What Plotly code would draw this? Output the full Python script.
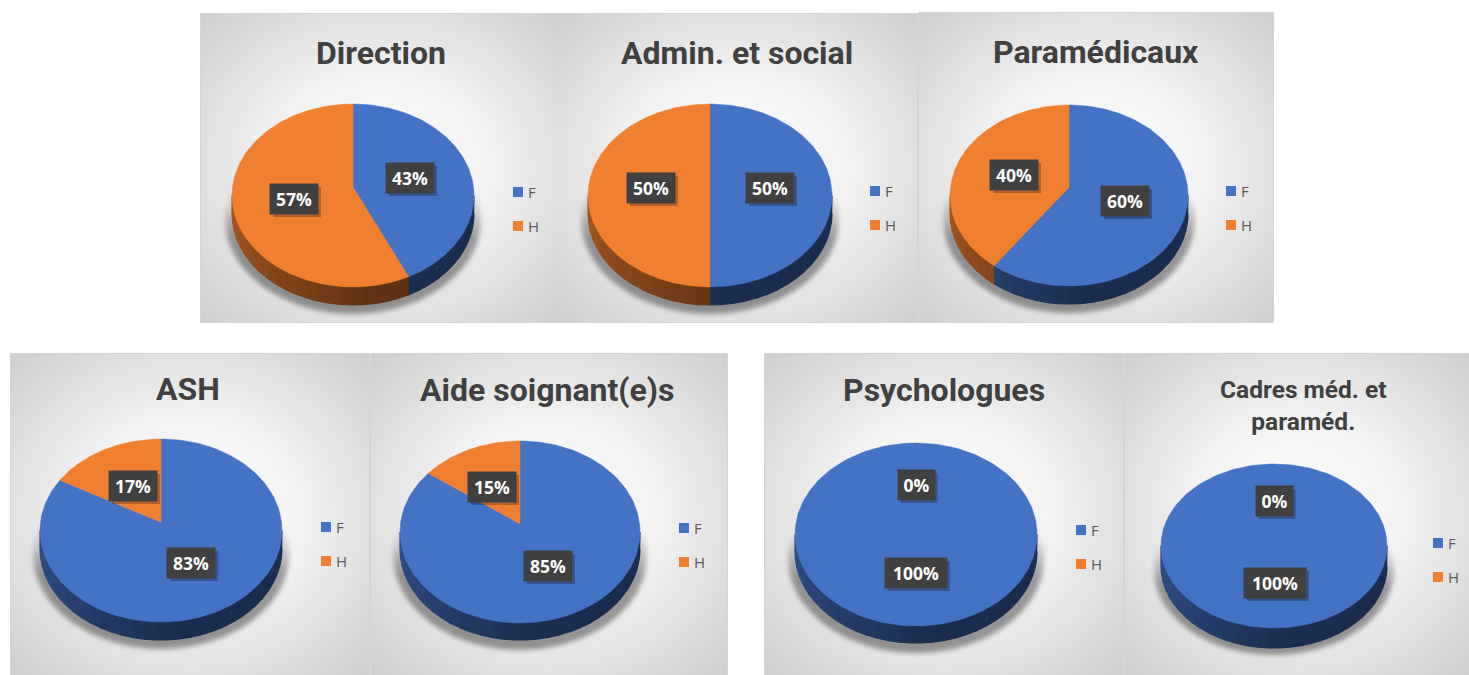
import base64
import numpy as np
import plotly.graph_objects as go

# ---- data -------------------------------------------------------------
titles = ["Direction", "Admin. et social", "Paramédicaux", "ASH",
          "Aide soignant(e)s", "Psychologues", "Cadres méd. et<br>paraméd."]
series_names = ["F", "H"]
values_f = [43, 50, 60, 83, 85, 100, 100]
values_h = [57, 50, 40, 17, 15, 0, 0]
colors = ["#4472C4", "#F07F30"]

# ---- layout (pixels of the 1469x675 page) ------------------------------
panels = [(201, 559, 14, 322), (559, 917, 14, 322), (919, 1273, 13, 322),
          (11, 369, 354, 675), (371, 727, 354, 675), (765, 1123, 354, 675),
          (1125, 1469, 354, 675)]
# centre x, top y, bottom y, half width, depth
pies = [(353, 104, 287, 121, 18), (710, 104, 287, 122, 18), (1069, 105, 286, 119, 18),
        (161, 439, 622, 121, 18), (520, 441, 623, 120, 17), (916, 443, 626, 121, 17),
        (1274, 464, 628, 113, 20)]
title_pos = [(381, 53), (737, 53), (1096, 52), (188, 389), (547, 390), (944, 390), (1303, 405)]
title_sizes = [32, 32, 32, 32, 32, 32, 24.5]
label_f = [(410, 178), (770, 188), (1125, 201), (191, 563), (548, 566), (916, 573), (1275, 583)]
label_h = [(294, 199), (651, 188), (1014, 175), (133, 486), (492, 487), (916, 485), (1274, 501)]
legend_x = [518, 875, 1231, 326, 684, 1081, 1438]
legend_y = [192, 191, 191, 527, 528, 530, 543]
LEG_GAP = 34


def shade(hex_c, k):
    r, g, b = [int(hex_c[i:i + 2], 16) for i in (1, 3, 5)]
    return f"rgb({int(r * k)},{int(g * k)},{int(b * k)})"


def panel_svg(w, h, cx, cy, rx, ry):
    svg = f'''<svg xmlns="http://www.w3.org/2000/svg" width="{w}" height="{h}" viewBox="0 0 {w} {h}">
<defs>
<radialGradient id="g" cx="50%" cy="50%" r="72%">
<stop offset="0%" stop-color="#ffffff"/><stop offset="42%" stop-color="#f2f2f2"/><stop offset="100%" stop-color="#cdcdcd"/>
</radialGradient>
<linearGradient id="s" x1="0" y1="0" x2="0" y2="1">
<stop offset="0.35" stop-color="#000" stop-opacity="0"/><stop offset="0.60" stop-color="#000" stop-opacity="0.36"/><stop offset="1" stop-color="#000" stop-opacity="0.38"/>
</linearGradient>
<filter id="b" x="-20%" y="-20%" width="140%" height="140%"><feGaussianBlur stdDeviation="2.5"/></filter>
</defs>
<rect width="{w}" height="{h}" fill="url(#g)"/>
<ellipse cx="{cx}" cy="{cy + 24}" rx="{rx + 7}" ry="{ry + 3}" fill="url(#s)" filter="url(#b)"/>
</svg>'''
    return "data:image/svg+xml;base64," + base64.b64encode(svg.encode()).decode()


def warp(f, d):
    """Perspective: angle f seen from an apex offset by d (in radii units) -> ellipse parameter."""
    f = np.asarray(f, dtype=float)
    th = 2 * np.pi * f
    s, c = np.sin(th), np.cos(th)
    bq = -d * c
    t = -bq + np.sqrt(bq * bq + 1 - d * d)
    u, v = t * s, d - t * c
    g = np.mod(np.arctan2(u, -v) / (2 * np.pi), 1.0)
    g = np.where(f >= 1.0, 1.0, g)
    return g


def ell(cx, cy, rx, ry, g):
    th = 2 * np.pi * np.asarray(g)
    return cx + rx * np.sin(th), cy - ry * np.cos(th)


fig = go.Figure()
shapes, images, annos = [], [], []

for i, (px0, px1, py0, py1) in enumerate(panels):
    cx, top, bot, rx, depth = pies[i]
    cy = (top + bot) / 2
    ry = (bot - top) / 2
    apex_y = top + 0.455 * (bot - top)
    d = (apex_y - cy) / ry
    images.append(dict(source=panel_svg(px1 - px0, py1 - py0, cx - px0, cy - py0, rx, ry),
                       xref="x", yref="y", x=px0, y=py0, sizex=px1 - px0, sizey=py1 - py0,
                       sizing="stretch", layer="below", xanchor="left", yanchor="top"))
    shapes.append(dict(type="rect", x0=px0, x1=px1, y0=py0, y1=py1, xref="x", yref="y",
                       line=dict(color="#c8c8c8", width=1.5), layer="below"))

    vals = [values_f[i], values_h[i]]
    total = sum(vals)

    # side wall (front half only)
    start = 0.0
    for s, v in enumerate(vals):
        frac = v / total
        end = start + frac
        if frac > 0:
            g0, g1 = float(warp(start, d)), float(warp(end, d))
            a, b = max(g0, 0.25), min(g1, 0.75)
            if b > a:
                edges = np.linspace(a, b, max(2, int((b - a) / 0.015) + 1))
                for e0, e1 in zip(edges[:-1], edges[1:]):
                    t = (0.5 * (e0 + e1) - 0.25) / 0.5
                    k = 0.40 + 0.30 * max(0, t - 0.45) / 0.55
                    x, y = ell(cx, cy, rx, ry, np.linspace(e0, e1, 4))
                    xs = list(x) + list(x[::-1])
                    ys = list(y) + list((y + depth)[::-1])
                    col = shade(colors[s], k)
                    fig.add_trace(go.Scatter(x=xs, y=ys, mode="lines", fill="toself", fillcolor=col,
                                             line=dict(color=col, width=1.2),
                                             hoverinfo="skip", showlegend=False))
        start = end

    # top surface
    start = 0.0
    for s, v in enumerate(vals):
        frac = v / total
        end = start + frac
        if frac > 0:
            g0, g1 = float(warp(start, d)), float(warp(end, d))
            x, y = ell(cx, cy, rx, ry, np.linspace(g0, g1, 181))
            if frac < 1:
                x = np.r_[cx, x, cx]
                y = np.r_[apex_y, y, apex_y]
            fig.add_trace(go.Scatter(x=x, y=y, mode="lines", fill="toself",
                                     fillcolor=colors[s], line=dict(color=colors[s], width=0.5),
                                     name=series_names[s], text=f"{titles[i]}: {v}%",
                                     hoverinfo="text", showlegend=False))
        start = end

    # data labels
    for (lx, ly), v in ((label_f[i], values_f[i]), (label_h[i], values_h[i])):
        txt = f"{v}%"
        w = {2: 37, 3: 48, 4: 62}[len(txt)]
        shapes.append(dict(type="rect", x0=lx - w / 2 + 3, x1=lx + w / 2 + 3, y0=ly - 15 + 3, y1=ly + 15 + 3,
                           xref="x", yref="y", fillcolor="rgba(0,0,0,0.25)", line_width=0, layer="above"))
        annos.append(dict(x=lx, y=ly, xref="x", yref="y", text=f"<b>{txt}</b>", showarrow=False,
                          width=w, height=30, borderpad=0, bgcolor="#404040", align="center", valign="middle",
                          font=dict(family="Open Sans", size=17.5, color="#ffffff")))

    # title
    tx, ty = title_pos[i]
    annos.append(dict(x=tx, y=ty, xref="x", yref="y", text=f"<b>{titles[i]}</b>",
                      showarrow=False, font=dict(family="Roboto", size=title_sizes[i], color="#404040"),
                      align="center", yanchor="middle", xanchor="center"))

    # legend
    mx, my = legend_x[i], legend_y[i]
    shapes.append(dict(type="rect", x0=mx - 15, x1=mx + 29, y0=my - 19, y1=my + 51, xref="x", yref="y",
                       fillcolor="rgba(238,238,238,0.95)", line_width=0, layer="below"))
    for s, name in enumerate(series_names):
        fig.add_trace(go.Scatter(x=[mx], y=[my + s * LEG_GAP], mode="markers",
                                 marker=dict(symbol="square", size=10, color=colors[s]),
                                 name=name, hoverinfo="name", showlegend=False))
        annos.append(dict(x=mx + 8, y=my + s * LEG_GAP, xref="x", yref="y", text=name, showarrow=False,
                          xanchor="left", yanchor="middle",
                          font=dict(family="Open Sans", size=15, color="#595959")))

fig.update_layout(width=1469, height=675, margin=dict(l=0, r=0, t=0, b=0),
                  paper_bgcolor="#ffffff", plot_bgcolor="#ffffff", showlegend=False,
                  xaxis=dict(range=[0, 1469], visible=False, fixedrange=True),
                  yaxis=dict(range=[675, 0], visible=False, fixedrange=True),
                  shapes=shapes, images=images, annotations=annos)
fig.write_html("out.html", config=dict(displayModeBar=False),
               post_script="document.body.style.margin='0';")
